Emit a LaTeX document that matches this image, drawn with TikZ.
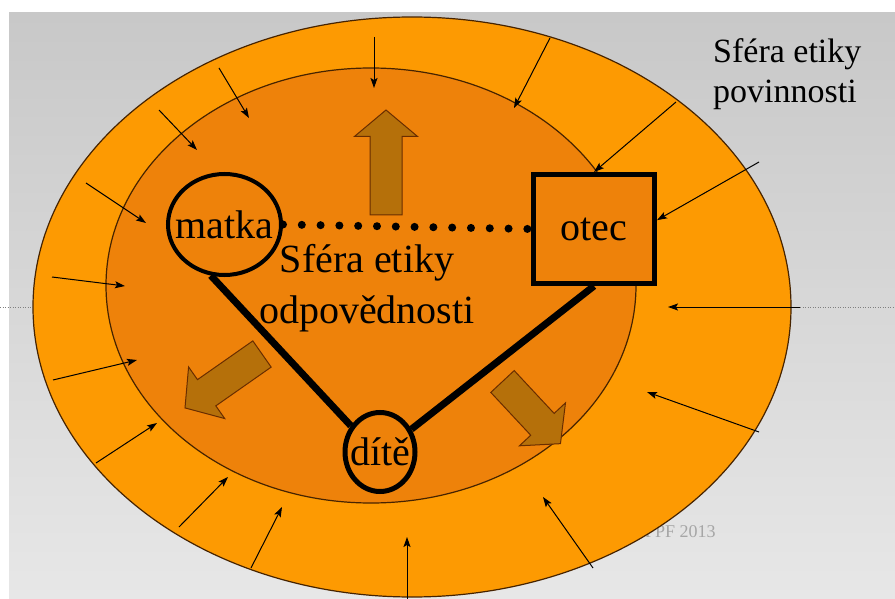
\documentclass[tikz,border=0pt]{standalone}
\usepackage{fontspec}
\setmainfont{Liberation Serif}
\usepackage{xcolor}
\usepackage{tikz}
\usetikzlibrary{arrows.meta,shapes.geometric,shapes.arrows,positioning}
\definecolor{outerorange}{RGB}{253,154,2}
\definecolor{innerorange}{RGB}{238,130,10}
\definecolor{brownarrow}{RGB}{181,112,10}
\definecolor{brownline}{RGB}{105,45,0}
\definecolor{rimline}{RGB}{70,35,0}
\definecolor{slidetop}{RGB}{200,200,200}
\definecolor{slidebottom}{RGB}{231,231,231}
\definecolor{yeargray}{RGB}{166,166,166}

\begin{document}
\begin{tikzpicture}[x=1pt,y=-1pt,>={Stealth[length=10pt,width=7pt,inset=2pt]},
	ring/.style={draw=rimline,line width=1.2pt},
	push/.style={->,line width=1pt},
	member/.style={draw,line width=4pt,fill=innerorange,inner sep=0pt,font=\fontsize{40}{48}\selectfont},
	bigarrow/.style={single arrow,draw=brownline,fill=brownarrow,line width=1pt,inner sep=15.5pt,outer sep=0pt,
		single arrow head extend=15.5pt,single arrow tip angle=100,anchor=tail},
	bond/.style={line width=7pt}]
	\useasboundingbox (0,0) rectangle (895,599);
	\fill[white] (0,0) rectangle (895,599);
	\shade[top color=slidetop,bottom color=slidebottom] (9,13) rectangle (895,599);
	\draw[gray,line width=0.8pt,dash pattern=on 1pt off 1.5pt] (0,307) -- (895,307);
	\node[anchor=base west,inner sep=0pt,text=yeargray,font=\fontsize{18}{20}\selectfont] (year) at (645,537) {PPF 2013};

	% the two spheres
	\draw[ring,fill=outerorange] (412,307) ellipse [x radius=379pt,y radius=290pt];
	\draw[ring,fill=innerorange] (371,285.5) ellipse [x radius=265pt,y radius=217.5pt];

	% pressure from outside
	\foreach \xa/\ya/\xb/\yb in {374/37/374/88, 219/68/249/118, 159/110/197/150, 86/183/146/223,
			52/277/125/286, 53/380/137/360, 96/463/157/423, 179/527/228/477,
			251/568/282/507, 407/599/407/537, 593/568/543/497, 759/432/647/392,
			800/307/668/307, 550/38/514/108}
		\draw[push] (\xa,\ya) -- (\xb,\yb);

	% growth from inside
	\node[bigarrow,rotate=90,minimum height=105pt] (up) at (386,215) {};
	\node[bigarrow,rotate=215,minimum height=94pt] (left) at (262,354) {};
	\node[bigarrow,rotate=-47,minimum height=85pt] (right) at (502.5,381.5) {};

	\node[inner sep=0pt,align=center,font=\fontsize{40}{51}\selectfont] (inner) at (367,288) {Sféra etiky\\odpovědnosti};
	\node[inner sep=0pt,align=left,anchor=west,font=\fontsize{34}{40}\selectfont] (outer) at (713,74) {Sféra etiky\\povinnosti};

	\node[member,ellipse,minimum width=113pt,minimum height=101pt] (matka) at (224.5,224.5) {\makebox[0pt]{matka}};
	\node[member,rectangle,line width=5pt,minimum width=121pt,minimum height=109pt] (otec) at (594,229) {otec};
	\node[member,ellipse,line width=5pt,minimum width=70pt,minimum height=79pt] (dite) at (380,452) {\makebox[0pt]{dítě}};

	\draw[bond] (matka.255) -- (dite.138);
	\draw[bond] (otec.south) -- (dite.36);
	\draw[line width=8pt,line cap=round,dash pattern=on 0pt off 18.8pt] (matka.east) -- (otec.west);

	\draw[push] (676,102) -- (otec.north);
	\draw[push] (759,162) -- (otec.8);
\end{tikzpicture}
\end{document}
